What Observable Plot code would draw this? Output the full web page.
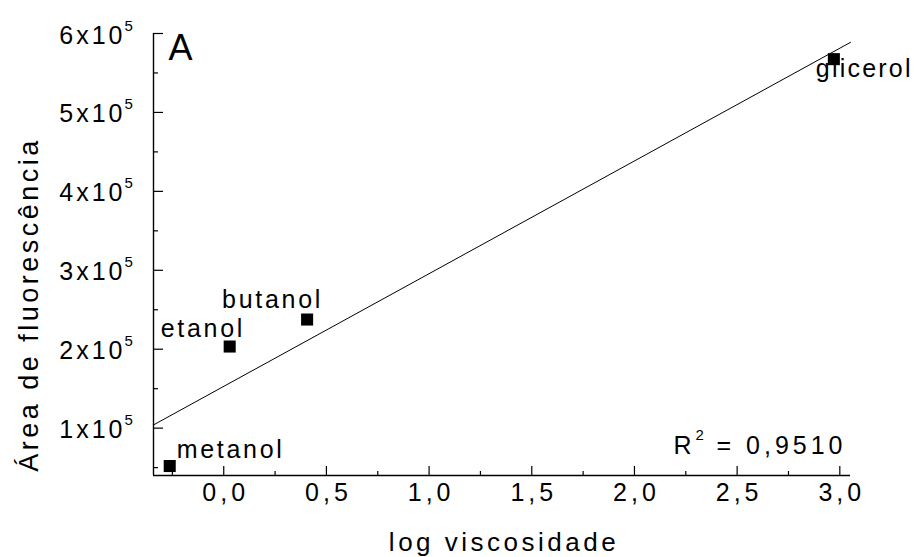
<!DOCTYPE html>
<html>
<head>
<meta charset="utf-8">
<script src="https://cdn.jsdelivr.net/npm/d3@7"></script>
<script src="https://cdn.jsdelivr.net/npm/@observablehq/plot@0.6"></script>
<style>
  body { margin: 0; background: #fff; }
  #chart svg text { font-family: "Liberation Sans", Arial, Helvetica, sans-serif; }
  #chart g[aria-description="y-tick-label"] text { letter-spacing: 3px; }
  #chart g[aria-description="x-tick-label"] text { letter-spacing: 4px; }
  #chart g[aria-description="x-title"] text { letter-spacing: 3.5px; }
  #chart g[aria-description="y-title"] text { letter-spacing: 3.5px; }
  #chart g[aria-description="point-label"] text { letter-spacing: 2.7px; }
  #chart g[aria-description="point-label-edge"] text { letter-spacing: 2.2px; }
  #chart g[aria-description="r2"] text { letter-spacing: 4px; }
</style>
</head>
<body>
<div id="chart"></div>
<script>
// Solvents, log10 of viscosity and integrated fluorescence area
const solvents = ["metanol", "etanol", "butanol", "glicerol"];
const logViscosity = [-0.263, 0.029, 0.406, 2.971];
const fluorescenceArea = [52000, 203400, 237600, 567500];

// Axis ticks
const xTicks = [0, 0.5, 1, 1.5, 2, 2.5, 3];
const xMinorTicks = [-0.25, 0.25, 0.75, 1.25, 1.75, 2.25, 2.75];
const yTicks = [100000, 200000, 300000, 400000, 500000, 600000];
const yMinorTicks = [50000, 150000, 250000, 350000, 450000, 550000];
const xDomain = [-0.342, 3.052];
const yDomain = [40000, 600000];

// Texts
const panelLetter = "A";
const xTitle = "log viscosidade";
const yTitle = "Área de fluorescência";
const rSquaredText = "= 0,9510";

const points = solvents.map((name, i) => ({name, x: logViscosity[i], y: fluorescenceArea[i]}));

// Least-squares fit, drawn across the whole x range
const mx = d3.mean(logViscosity), my = d3.mean(fluorescenceArea);
const sxy = d3.sum(points, p => (p.x - mx) * (p.y - my));
const sxx = d3.sum(points, p => (p.x - mx) ** 2);
const slope = sxy / sxx;
const intercept = my - slope * mx;
const fit = xDomain.map(x => ({x, y: intercept + slope * x}));

const W = 914, H = 557;
const mL = 153, mR = 64, mT = 33, mB = 82;
const plotW = W - mL - mR, plotH = H - mT - mB;

// label offsets around each square (baseline anchored)
const labelOffset = {
  metanol: {dx: 7, dy: -8},
  etanol: {dx: -69, dy: -10},
  butanol: {dx: -85, dy: -12},
  glicerol: {dx: -18, dy: 18}
};

const fmtX = d => d3.format(".1f")(d).replace(".", ",");

const chart = Plot.plot({
  width: W,
  height: H,
  marginLeft: mL,
  marginRight: mR,
  marginTop: mT,
  marginBottom: mB,
  style: {background: "#fff", overflow: "visible"},
  x: {domain: xDomain, axis: null},
  y: {domain: yDomain, axis: null},
  marks: [
    // L-shaped frame
    Plot.ruleX([xDomain[0]], {stroke: "#000", strokeWidth: 1.4}),
    Plot.ruleY([yDomain[0]], {stroke: "#000", strokeWidth: 1.4}),
    // inward ticks
    Plot.tickY(yTicks, {y: d => d, insetRight: plotW - 10, stroke: "#000", strokeWidth: 1.2}),
    Plot.tickY(yMinorTicks, {y: d => d, insetRight: plotW - 5, stroke: "#000", strokeWidth: 1.2}),
    Plot.tickX(xTicks, {x: d => d, insetTop: plotH - 9, stroke: "#000", strokeWidth: 1.2}),
    Plot.tickX(xMinorTicks, {x: d => d, insetTop: plotH - 4, stroke: "#000", strokeWidth: 1.2}),
    // tick labels
    Plot.text(yTicks, {y: d => d, frameAnchor: "left", text: d => `${d / 1e5}x10`, textAnchor: "end",
      lineAnchor: "bottom", dx: -28, dy: 10, fontSize: 25, fill: "#000", ariaDescription: "y-tick-label"}),
    Plot.text(yTicks, {y: d => d, frameAnchor: "left", text: () => "5", textAnchor: "start",
      lineAnchor: "bottom", dx: -29, dy: -3, fontSize: 15, fill: "#000"}),
    Plot.text(xTicks, {x: d => d, frameAnchor: "bottom", text: fmtX, textAnchor: "middle",
      lineAnchor: "bottom", dx: 2, dy: 25, fontSize: 25, fill: "#000", ariaDescription: "x-tick-label"}),
    // axis titles
    Plot.text([xTitle], {frameAnchor: "bottom", textAnchor: "middle", lineAnchor: "bottom",
      dx: 2, dy: 75, fontSize: 26, fill: "#000", ariaDescription: "x-title"}),
    Plot.text([yTitle], {frameAnchor: "left", textAnchor: "middle", lineAnchor: "bottom", rotate: -90,
      dx: -116, dy: 50, fontSize: 27, fill: "#000", ariaDescription: "y-title"}),
    // regression line
    Plot.line(fit, {x: "x", y: "y", stroke: "#000", strokeWidth: 1}),
    // data squares
    Plot.dot(points, {x: "x", y: "y", symbol: "square", r: 6.8, fill: "#000", stroke: "none"}),
    // solvent labels
    ...solvents.map(name => Plot.text(points.filter(p => p.name === name), {
      x: "x", y: "y", text: "name", textAnchor: "start", lineAnchor: "bottom",
      dx: labelOffset[name].dx, dy: labelOffset[name].dy, fontSize: 25, fill: "#000",
      ariaDescription: name === "glicerol" ? "point-label-edge" : "point-label"
    })),
    // panel letter
    Plot.text([panelLetter], {frameAnchor: "top-left", textAnchor: "start", lineAnchor: "bottom",
      dx: 15, dy: 26, fontSize: 36, fill: "#000"}),
    // coefficient of determination
    Plot.text(["R"], {frameAnchor: "bottom-right", textAnchor: "start", lineAnchor: "bottom",
      dx: -177, dy: -22, fontSize: 25, fill: "#000"}),
    Plot.text(["2"], {frameAnchor: "bottom-right", textAnchor: "start", lineAnchor: "bottom",
      dx: -155, dy: -36, fontSize: 15, fill: "#000"}),
    Plot.text([rSquaredText], {frameAnchor: "bottom-right", textAnchor: "end", lineAnchor: "bottom",
      dx: -4, dy: -22, fontSize: 25, fill: "#000", ariaDescription: "r2"})
  ]
});

document.getElementById("chart").appendChild(chart);
</script>
</body>
</html>
